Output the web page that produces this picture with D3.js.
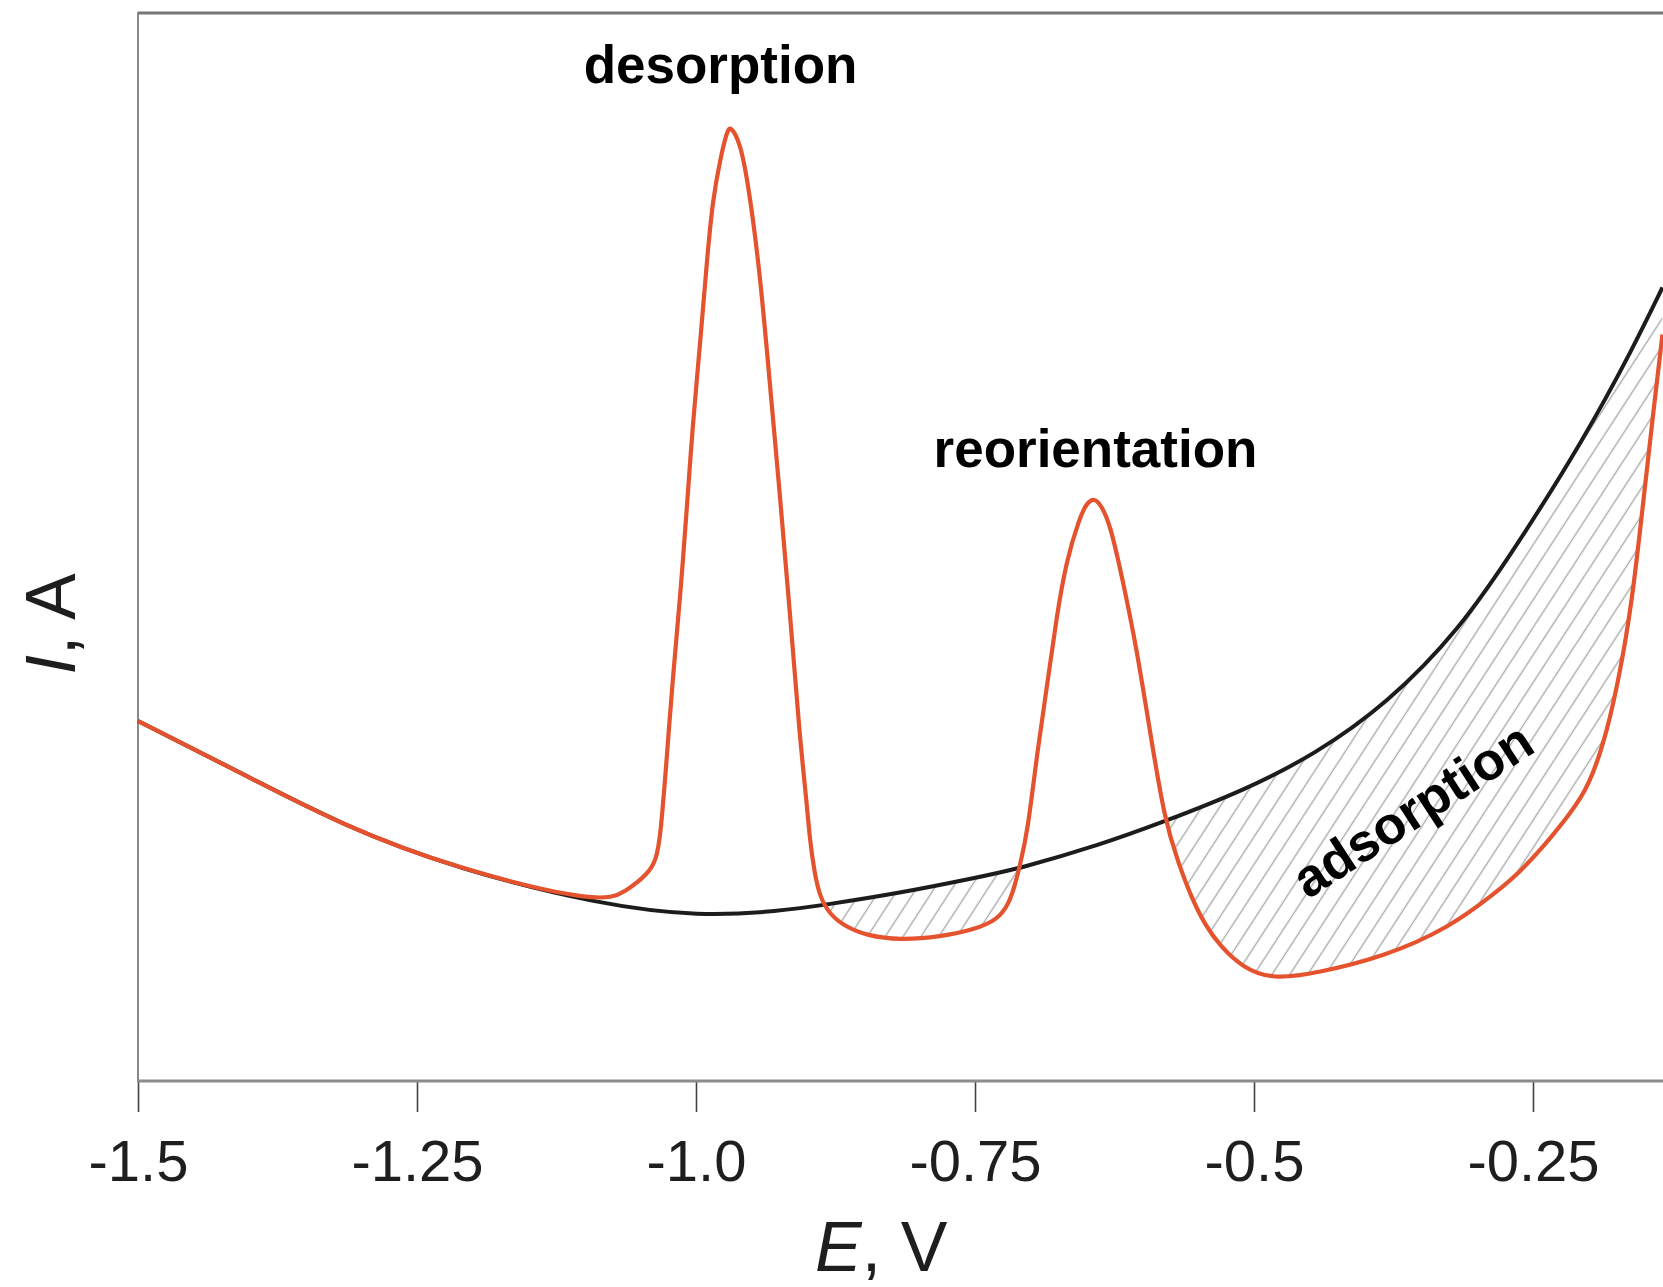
<!DOCTYPE html>
<html>
<head>
<meta charset="utf-8">
<script src="https://cdn.jsdelivr.net/npm/d3@7"></script>
<style>
  html, body { margin: 0; padding: 0; background: #fff; }
  svg { display: block; font-family: "Liberation Sans", Arial, Helvetica, sans-serif; }
</style>
</head>
<body>
<svg id="chart" width="1663" height="1287"></svg>
<script>
// Potential E (V) and current I (arbitrary units) for the two voltammograms.
const baseE = [-1.5, -1.418, -1.315, -1.212, -1.086, -0.996, -0.925, -0.884, -0.817, -0.746,
               -0.710, -0.638, -0.580, -0.509, -0.445, -0.381, -0.316, -0.264, -0.205, -0.160, -0.134];
const baseI = [33.7, 29.4, 23.8, 19.8, 16.5, 15.4, 15.9, 16.5, 17.6, 19.1,
               19.9, 22.1, 24.3, 27.2, 30.6, 35.3, 42.2, 50.2, 60.0, 68.7, 74.3];

const sampleE = [-1.5, -1.418, -1.315, -1.212, -1.086, -1.063, -1.042, -1.036, -1.032, -1.026,
                 -1.021, -1.014, -1.008, -1.003, -0.996, -0.990, -0.985, -0.978, -0.972, -0.969,
                 -0.961, -0.954, -0.943, -0.934, -0.925, -0.916, -0.907, -0.901, -0.898, -0.894,
                 -0.889, -0.880, -0.867, -0.847, -0.817, -0.781, -0.750, -0.730, -0.720, -0.714,
                 -0.710, -0.703, -0.694, -0.685, -0.677, -0.668, -0.656, -0.650, -0.643, -0.637,
                 -0.629, -0.617, -0.605, -0.593, -0.580, -0.568, -0.557, -0.544, -0.530, -0.510,
                 -0.483, -0.444, -0.384, -0.324, -0.284, -0.264, -0.235, -0.205, -0.193, -0.181,
                 -0.169, -0.160, -0.151, -0.142, -0.134];
const sampleI = [33.7, 29.4, 23.8, 19.8, 16.6, 17.7, 19.5, 20.7, 22.6, 30.5,
                 37.5, 45.5, 53.9, 61.4, 69.4, 77.1, 82.5, 86.5, 89.0, 89.4,
                 88.0, 84.6, 76.1, 65.5, 55.1, 44.1, 32.1, 26.3, 22.6, 19.6,
                 17.2, 15.6, 14.5, 13.6, 13.2, 13.5, 14.2, 15.1, 16.5, 18.4,
                 20.1, 23.2, 31.0, 37.3, 43.4, 48.8, 52.8, 54.1, 54.6, 53.9,
                 52.2, 46.6, 40.4, 32.6, 24.4, 20.5, 17.4, 14.6, 12.6, 10.6,
                 9.5, 10.1, 11.6, 14.4, 17.6, 19.3, 22.6, 26.6, 29.6, 33.8,
                 39.9, 46.0, 54.4, 62.8, 69.9];

const xTicks = [-1.5, -1.25, -1.0, -0.75, -0.5, -0.25];
const xTickLabels = ["-1.5", "-1.25", "-1.0", "-0.75", "-0.5", "-0.25"];

// Region labels, placed in data coordinates.
const labelText = ["desorption", "reorientation", "adsorption"];
const labelE = [-0.978, -0.642, -0.358];
const labelI = [93.4, 57.5, 25.4];

const svg = d3.select("#chart");
const W = 1663;

const x = d3.scaleLinear().domain([-1.5, -0.25]).range([138, 1533]);
const y = d3.scaleLinear().domain([0, 100]).range([1081, 13]);

const base = baseE.map((e, i) => ({ e, i: baseI[i] }));
const sample = sampleE.map((e, i) => ({ e, i: sampleI[i] }));

const curve = d3.curveBasis;
const line = d3.line().x(d => x(d.e)).y(d => y(d.i)).curve(curve);

// Hatching for the regions where the sample current drops below the baseline
const defs = svg.append("defs");
defs.append("pattern")
    .attr("id", "hatch")
    .attr("patternUnits", "userSpaceOnUse")
    .attr("width", 15).attr("height", 15)
    .attr("patternTransform", "rotate(33)")
  .append("line")
    .attr("x1", 7.5).attr("y1", -2).attr("x2", 7.5).attr("y2", 17)
    .attr("stroke", "#a9a9a9").attr("stroke-width", 1.4);

defs.append("clipPath").attr("id", "belowBase")
  .append("path")
    .attr("d", d3.area().x(d => x(d.e)).y0(y(0)).y1(d => y(d.i)).curve(curve)(base));

svg.append("path")
    .attr("clip-path", "url(#belowBase)")
    .attr("fill", "url(#hatch)")
    .attr("d", d3.area().x(d => x(d.e)).y0(y(100)).y1(d => y(d.i)).curve(curve)(sample));

// Frame
svg.append("line").attr("x1", 138).attr("x2", W).attr("y1", 13).attr("y2", 13)
   .attr("stroke", "#777").attr("stroke-width", 3);
svg.append("line").attr("x1", 138).attr("x2", 138).attr("y1", 12).attr("y2", y(0))
   .attr("stroke", "#888").attr("stroke-width", 2);

// x axis
const xAxis = d3.axisBottom(x)
    .tickValues(xTicks)
    .tickFormat((d, k) => xTickLabels[k])
    .tickSize(31)
    .tickPadding(28);
const gx = svg.append("g").attr("transform", `translate(0,${y(0)})`).call(xAxis);
gx.select(".domain").remove();
gx.selectAll(".tick line").attr("stroke", "#444").attr("stroke-width", 1.6);
gx.selectAll(".tick text")
    .attr("fill", "#1e1e1e")
    .style("font-size", "58px")
    .style("font-family", "'Liberation Sans', Arial, sans-serif");
svg.append("line").attr("x1", 137).attr("x2", W).attr("y1", y(0)).attr("y2", y(0))
   .attr("stroke", "#8c8c8c").attr("stroke-width", 3);

// Curves
svg.append("path").datum(base)
    .attr("d", line).attr("fill", "none")
    .attr("stroke", "#1c1c1c").attr("stroke-width", 4);
svg.append("path").datum(sample)
    .attr("d", line).attr("fill", "none")
    .attr("stroke", "#e4522e").attr("stroke-width", 4.2)
    .attr("stroke-linejoin", "round");

// Region labels
labelText.forEach((t, k) => {
  const tx = x(labelE[k]), ty = y(labelI[k]);
  const txt = svg.append("text")
      .attr("x", tx).attr("y", ty)
      .attr("text-anchor", "middle")
      .attr("font-weight", "bold")
      .attr("font-size", 53)
      .attr("fill", "#000")
      .text(t);
  if (t === "adsorption") {
    txt.attr("dominant-baseline", "central")
       .attr("transform", `rotate(-33, ${tx}, ${ty})`);
  }
});

// Axis titles
const xt = svg.append("text")
    .attr("x", x(-0.834)).attr("y", 1271)
    .attr("text-anchor", "middle")
    .attr("font-size", 70)
    .attr("fill", "#1e1e1e");
xt.append("tspan").attr("font-style", "italic").text("E");
xt.append("tspan").text(", V");

const yt = svg.append("text")
    .attr("transform", "translate(75,624) rotate(-90)")
    .attr("text-anchor", "middle")
    .attr("font-size", 70)
    .attr("fill", "#1e1e1e");
yt.append("tspan").attr("font-style", "italic").text("I");
yt.append("tspan").text(", A");
</script>
</body>
</html>
